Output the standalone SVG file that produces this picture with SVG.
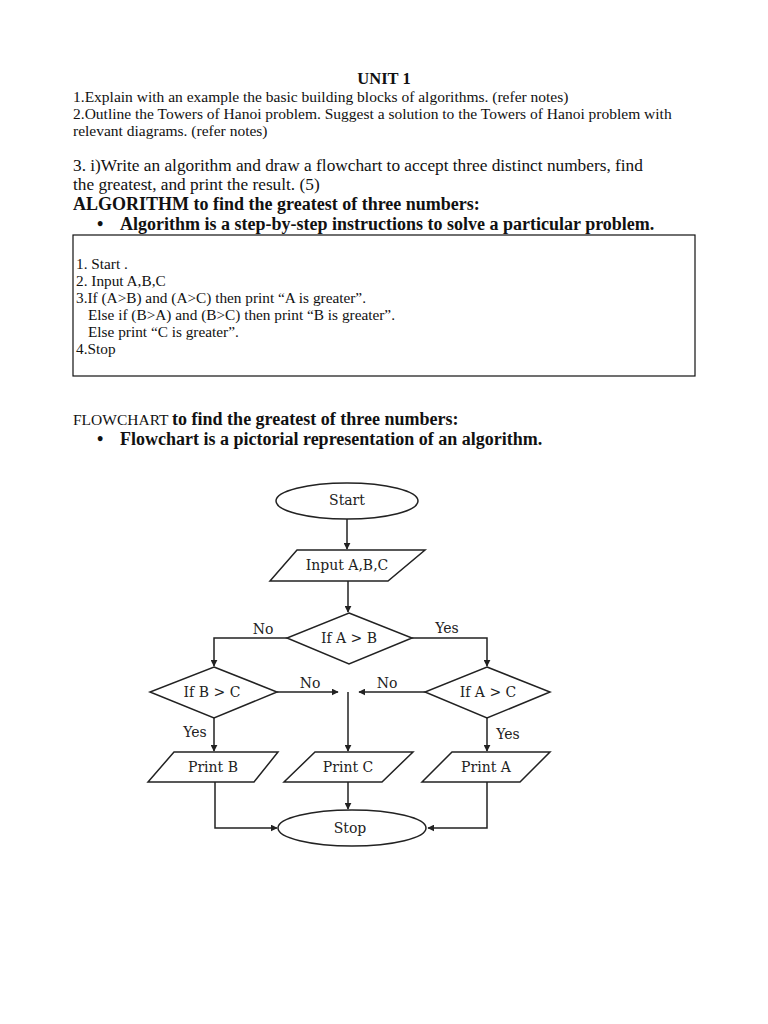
<svg xmlns="http://www.w3.org/2000/svg" width="768" height="1024" viewBox="0 0 768 1024">
<defs>
<marker id="ah" viewBox="0 0 10 10" refX="9" refY="5" markerWidth="7" markerHeight="7" markerUnits="userSpaceOnUse" orient="auto">
<path d="M0,0 L10,5 L0,10 z" fill="#222"/>
</marker>
<style>
.t{font-family:"Liberation Serif","Times New Roman",serif;fill:#111}
.s{font-size:15.5px}
.m{font-size:17.3px}
.h{font-size:18px}
.bx{font-size:15.3px}
.b{font-weight:bold}
.shape{fill:#fff;stroke:#222;stroke-width:1.5}
.fl{font-family:"DejaVu Serif","Liberation Serif",serif;font-size:14px;fill:#222;text-anchor:middle}
.conn{fill:none;stroke:#222;stroke-width:1.5}
</style>
</defs>
<rect width="768" height="1024" fill="#fff"/>
<g id="header">
<text class="t b" x="384" y="84" font-size="16.5" text-anchor="middle">UNIT 1</text>
<text class="t s" x="73" y="102">1.Explain with an example the basic building blocks of algorithms. (refer notes)</text>
<text class="t s" x="73" y="119">2.Outline the Towers of Hanoi problem. Suggest a solution to the Towers of Hanoi problem with</text>
<text class="t s" x="73" y="136">relevant diagrams. (refer notes)</text>
<text class="t m" x="73" y="171">3. i)Write an algorithm and draw a flowchart to accept three distinct numbers, find</text>
<text class="t m" x="73" y="190">the greatest, and print the result. (5)</text>
<text class="t h b" x="73" y="210">ALGORITHM to find the greatest of three numbers:</text>
<text class="t h b" x="97" y="230">•</text>
<text class="t h b" x="120" y="230">Algorithm is a step-by-step instructions to solve a particular problem.</text>
</g>
<g id="algorithm-box">
<rect x="73" y="235" width="622" height="141" fill="#fff" stroke="#111" stroke-width="1.2"/>
<text class="t bx" x="76" y="269">1. Start .</text>
<text class="t bx" x="76" y="286">2. Input A,B,C</text>
<text class="t bx" x="76" y="303">3.If (A&gt;B) and (A&gt;C) then print “A is greater”.</text>
<text class="t bx" x="88" y="320">Else if (B&gt;A) and (B&gt;C) then print “B is greater”.</text>
<text class="t bx" x="88" y="337">Else print “C is greater”.</text>
<text class="t bx" x="76" y="354">4.Stop</text>
</g>
<g id="flowchart-title">
<text class="t" x="73" y="425" font-size="15.5">FLOWCHART <tspan class="b" font-size="18">to find the greatest of three numbers:</tspan></text>
<text class="t b" x="97" y="445" font-size="18">•</text>
<text class="t b" x="120" y="445" font-size="18">Flowchart is a pictorial representation of an algorithm.</text>
</g>
<g id="connectors">
<path class="conn" d="M347,519 V549" marker-end="url(#ah)"/>
<path class="conn" d="M348,581 V612" marker-end="url(#ah)"/>
<path class="conn" d="M287,638 H214 V666" marker-end="url(#ah)"/>
<path class="conn" d="M412,638 H487 V666" marker-end="url(#ah)"/>
<path class="conn" d="M277,692 H338" marker-end="url(#ah)"/>
<path class="conn" d="M425,692 H359" marker-end="url(#ah)"/>
<path class="conn" d="M348,692 V751" marker-end="url(#ah)"/>
<path class="conn" d="M214,718 V751" marker-end="url(#ah)"/>
<path class="conn" d="M487,718 V751" marker-end="url(#ah)"/>
<path class="conn" d="M348,782 V809" marker-end="url(#ah)"/>
<path class="conn" d="M215,782 V828 H277" marker-end="url(#ah)"/>
<path class="conn" d="M487,782 V828 H428" marker-end="url(#ah)"/>
<text class="fl" x="263" y="634">No</text>
<text class="fl" x="447" y="633">Yes</text>
<text class="fl" x="310" y="688">No</text>
<text class="fl" x="387" y="688">No</text>
<text class="fl" x="195" y="737">Yes</text>
<text class="fl" x="508" y="739">Yes</text>
</g>
<g id="start">
<ellipse class="shape" cx="347" cy="501" rx="71" ry="18"/>
<text class="fl" x="347" y="505">Start</text>
</g>
<g id="input">
<polygon class="shape" points="297,550 425,550 388,581 270,581"/>
<text class="fl" x="347" y="570">Input A,B,C</text>
</g>
<g id="if-a-gt-b">
<polygon class="shape" points="349,613 412,638 349,664 287,638"/>
<text class="fl" x="349" y="643">If A &gt; B</text>
</g>
<g id="if-b-gt-c">
<polygon class="shape" points="214,667 277,692 214,718 150,692"/>
<text class="fl" x="212" y="697">If B &gt; C</text>
</g>
<g id="if-a-gt-c">
<polygon class="shape" points="487,667 550,692 487,718 425,692"/>
<text class="fl" x="488" y="697">If A &gt; C</text>
</g>
<g id="print-b">
<polygon class="shape" points="174,752 278,752 254,782 148,782"/>
<text class="fl" x="213" y="772">Print B</text>
</g>
<g id="print-c">
<polygon class="shape" points="315,752 413,752 382,782 284,782"/>
<text class="fl" x="348" y="772">Print C</text>
</g>
<g id="print-a">
<polygon class="shape" points="452,752 550,752 520,782 422,782"/>
<text class="fl" x="486" y="772">Print A</text>
</g>
<g id="stop">
<ellipse class="shape" cx="352" cy="828" rx="74" ry="18"/>
<text class="fl" x="350" y="833">Stop</text>
</g>
</svg>
